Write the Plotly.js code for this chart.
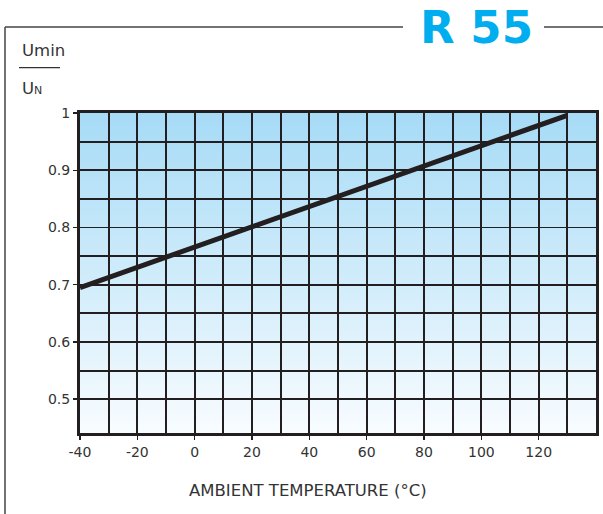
<!DOCTYPE html>
<html>
<head>
<meta charset="utf-8">
<script src="https://cdn.plot.ly/plotly-3.0.1.min.js"></script>
<style>html,body{margin:0;padding:0;background:#fff;}#chart{width:603px;height:514px;}</style>
</head>
<body>
<div id="chart"></div>
<script>
// Data
const temperature = [-40, 130];          // ambient temperature (°C)
const uminRatio = [0.695, 0.996];        // Umin / UN

const xTickVals = [-40, -20, 0, 20, 40, 60, 80, 100, 120];
const xTickText = ["-40", "-20", "0", "20", "40", "60", "80", "100", "120"];
const yTickVals = [0.5, 0.6, 0.7, 0.8, 0.9, 1];
const yTickText = ["0.5", "0.6", "0.7", "0.8", "0.9", "1"];
const yMinorGrid = [0.55, 0.65, 0.75, 0.85, 0.95];

const chartTitle = "R 55";
const xTitle = "AMBIENT TEMPERATURE (°C)";

const W = 603, H = 514;
const M = {l: 80, r: 7, t: 113, b: 81};
const pw = W - M.l - M.r, ph = H - M.t - M.b;
const px = v => (v - M.l) / pw;          // pixel -> paper x
const py = v => (H - M.b - v) / ph;      // pixel -> paper y

const ink = '#231f20';
const txt = '#333333';
const font = 'DejaVu Sans, Liberation Sans, sans-serif';

const svg = '<svg xmlns="http://www.w3.org/2000/svg" width="100" height="100" preserveAspectRatio="none">' +
  '<defs><linearGradient id="g" x1="0" y1="0" x2="0" y2="1">' +
  '<stop offset="0" stop-color="#a6dbf6"/><stop offset="1" stop-color="#f8fcff"/>' +
  '</linearGradient></defs><rect width="100" height="100" fill="url(#g)"/></svg>';
const bgSrc = 'data:image/svg+xml;base64,' + btoa(svg);

const trace = {
  x: temperature, y: uminRatio, type: 'scatter', mode: 'lines',
  line: {color: ink, width: 5}, hoverinfo: 'skip', cliponaxis: false
};

const layout = {
  width: W, height: H,
  margin: M,
  paper_bgcolor: '#ffffff',
  plot_bgcolor: 'rgba(0,0,0,0)',
  showlegend: false,
  font: {family: font, color: txt, size: 14},
  xaxis: {
    range: [-40, 140], tickmode: 'array', tickvals: xTickVals, ticktext: xTickText,
    ticks: 'outside', ticklen: 4, tickwidth: 1.5, tickcolor: ink,
    showgrid: true, gridcolor: ink, gridwidth: 1.8,
    minor: {dtick: 10, tick0: 0, showgrid: true, gridcolor: ink, gridwidth: 1.8, ticks: ''},
    showline: true, linecolor: ink, linewidth: 3, mirror: true,
    zeroline: false, fixedrange: true,
    tickfont: {family: font, size: 14, color: txt}
  },
  yaxis: {
    range: [0.441, 1.0], tickmode: 'array', tickvals: yTickVals, ticktext: yTickText,
    ticks: 'outside', ticklen: 4, tickwidth: 1.5, tickcolor: ink,
    showgrid: true, gridcolor: ink, gridwidth: 1.8,
    minor: {tickmode: 'array', tickvals: yMinorGrid, showgrid: true, gridcolor: ink, gridwidth: 1.8, ticks: ''},
    showline: true, linecolor: ink, linewidth: 3, mirror: true,
    zeroline: false, fixedrange: true,
    tickfont: {family: font, size: 14, color: txt}
  },
  images: [{
    source: bgSrc, xref: 'x domain', yref: 'y domain', x: 0, y: 1,
    sizex: 1, sizey: 1, sizing: 'stretch', xanchor: 'left', yanchor: 'top', layer: 'below'
  }],
  shapes: [
    // outer frame
    {type: 'line', xref: 'paper', yref: 'paper', x0: px(5), x1: px(5), y0: py(27), y1: py(520), line: {color: '#444', width: 1.5}},
    {type: 'line', xref: 'paper', yref: 'paper', x0: px(5), x1: px(403), y0: py(27), y1: py(27), line: {color: '#444', width: 1.5}},
    {type: 'line', xref: 'paper', yref: 'paper', x0: px(544), x1: px(610), y0: py(27), y1: py(27), line: {color: '#444', width: 1.5}},
    // fraction bar of y-axis title
    {type: 'line', xref: 'paper', yref: 'paper', x0: px(19), x1: px(60), y0: py(67.7), y1: py(67.7), line: {color: txt, width: 1.2}}
  ],
  annotations: [
    {text: '<b>' + chartTitle + '</b>', xref: 'paper', yref: 'paper', x: px(476), y: py(27.5),
     xanchor: 'center', yanchor: 'middle', showarrow: false, borderpad: 0,
     font: {family: 'DejaVu Sans, Liberation Sans, sans-serif', size: 45, color: '#00aeef'}},
    {text: 'Umin', xref: 'paper', yref: 'paper', x: px(19.5), y: py(50.5),
     xanchor: 'left', yanchor: 'middle', showarrow: false, font: {family: font, size: 16.5, color: txt}},
    {text: 'U<span style="font-size:11px">N</span>', xref: 'paper', yref: 'paper', x: px(19.5), y: py(88),
     xanchor: 'left', yanchor: 'middle', showarrow: false, font: {family: font, size: 16.5, color: txt}},
    {text: xTitle, xref: 'paper', yref: 'paper', x: px(308), y: py(490),
     xanchor: 'center', yanchor: 'middle', showarrow: false, font: {family: font, size: 16.5, color: txt}}
  ]
};

Plotly.newPlot('chart', [trace], layout, {staticPlot: true, displayModeBar: false});
</script>
</body>
</html>
